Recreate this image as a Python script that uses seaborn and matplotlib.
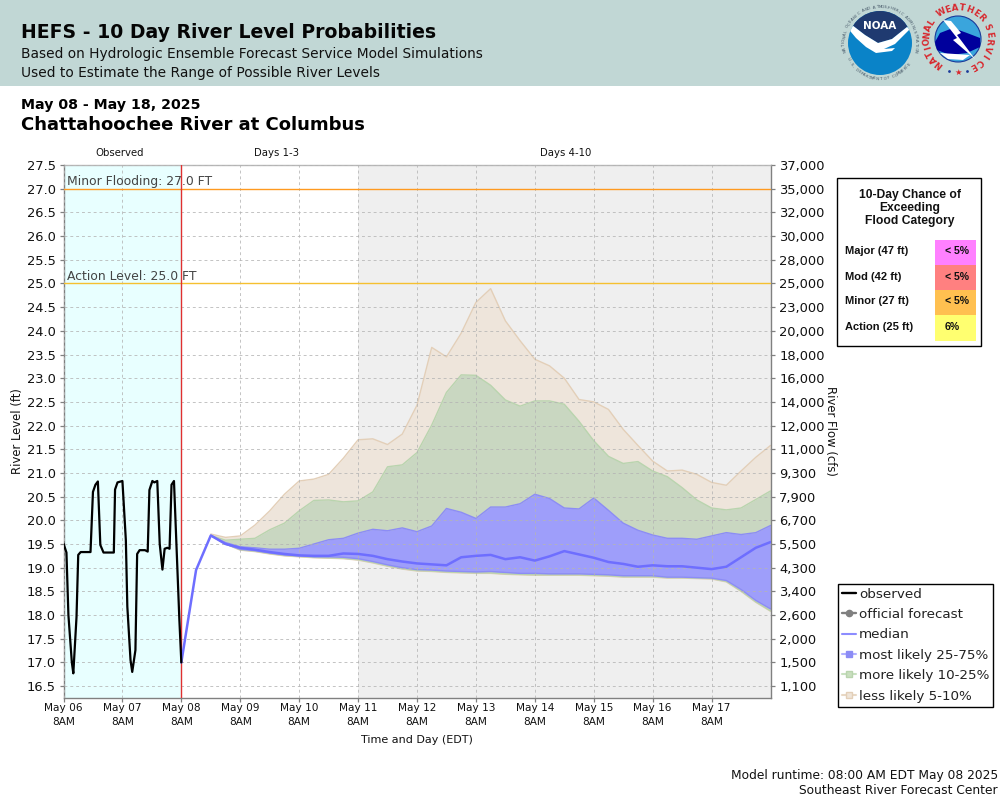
import numpy as np
import pandas as pd
import seaborn as sns
import matplotlib.pyplot as plt
from matplotlib.patches import Circle, Polygon, Rectangle
from matplotlib.lines import Line2D

# Hours since May 06 8AM
obs_hours = [0, 1.2, 2, 3.4, 4, 5.3, 6, 7, 11, 12, 13, 14, 15, 16.3, 20.5, 21, 22, 24, 25.4, 26, 27.3, 28,
             29.3, 30, 31, 33.2, 34.3, 35, 36.2, 37, 38.2, 39.2, 40.3, 41.2, 42.3, 43.2, 44, 45, 47.2, 48]
obs_level = [19.51, 19.32, 18.0, 17.0, 16.77, 17.96, 19.27, 19.33, 19.33, 20.6, 20.75, 20.82, 19.48, 19.32, 19.32,
             20.65, 20.8, 20.83, 19.58, 18.18, 17.05, 16.8, 17.26, 19.29, 19.37, 19.37, 19.34, 20.64, 20.83, 20.8,
             20.83, 19.5, 18.96, 19.4, 19.42, 19.4, 20.75, 20.83, 17.9, 17.0]

fcst_hours = list(range(48, 289, 6))
median = [17.0, 18.95, 19.68, 19.5, 19.42, 19.38, 19.33, 19.29, 19.26, 19.25, 19.25, 19.3, 19.29, 19.25, 19.18,
          19.13, 19.09, 19.07, 19.05, 19.22, 19.25, 19.27, 19.18, 19.22, 19.15, 19.24, 19.35, 19.28, 19.21, 19.12,
          19.08, 19.02, 19.05, 19.03, 19.03, 19.0, 18.97, 19.02, 19.22, 19.42, 19.54]

# Band edges start at May 08 8PM
band_hours = fcst_hours[2:]
p95 = [19.71, 19.64, 19.67, 19.9, 20.2, 20.55, 20.83, 20.87, 20.97, 21.31, 21.7, 21.72, 21.6, 21.82, 22.43, 23.65,
       23.45, 23.95, 24.6, 24.89, 24.21, 23.79, 23.4, 23.26, 23.0, 22.55, 22.5, 22.34, 21.92, 21.58, 21.25, 21.04,
       21.06, 20.97, 20.8, 20.74, 21.04, 21.33, 21.58]
p90 = [19.68, 19.58, 19.6, 19.62, 19.8, 19.94, 20.2, 20.42, 20.43, 20.39, 20.41, 20.6, 21.13, 21.17, 21.43, 22.01,
       22.7, 23.07, 23.06, 22.85, 22.54, 22.41, 22.52, 22.52, 22.45, 22.09, 21.68, 21.35, 21.2, 21.24, 21.04, 20.92,
       20.69, 20.43, 20.26, 20.22, 20.26, 20.44, 20.62]
p75 = [19.68, 19.53, 19.44, 19.42, 19.39, 19.39, 19.41, 19.5, 19.59, 19.62, 19.73, 19.81, 19.78, 19.84, 19.76, 19.88,
       20.25, 20.17, 20.04, 20.28, 20.28, 20.35, 20.55, 20.46, 20.26, 20.24, 20.47, 20.21, 19.94, 19.79, 19.69, 19.62,
       19.62, 19.6, 19.67, 19.74, 19.7, 19.74, 19.89]
p25 = [19.68, 19.5, 19.39, 19.36, 19.31, 19.27, 19.25, 19.23, 19.23, 19.22, 19.19, 19.13, 19.06, 19.0, 18.96, 18.95,
       18.93, 18.92, 18.91, 18.92, 18.9, 18.88, 18.88, 18.87, 18.87, 18.87, 18.86, 18.85, 18.83, 18.83, 18.83, 18.8,
       18.8, 18.79, 18.78, 18.73, 18.54, 18.31, 18.13]
p10 = [19.68, 19.5, 19.38, 19.35, 19.3, 19.26, 19.24, 19.22, 19.21, 19.2, 19.17, 19.11, 19.04, 18.98, 18.94, 18.93,
       18.91, 18.9, 18.89, 18.89, 18.87, 18.86, 18.85, 18.85, 18.85, 18.85, 18.84, 18.83, 18.81, 18.81, 18.81, 18.79,
       18.79, 18.78, 18.77, 18.71, 18.51, 18.28, 18.09]
p5 = [19.68, 19.5, 19.37, 19.34, 19.29, 19.25, 19.23, 19.21, 19.2, 19.19, 19.16, 19.1, 19.03, 18.97, 18.93, 18.92,
      18.9, 18.89, 18.88, 18.88, 18.86, 18.85, 18.84, 18.84, 18.84, 18.84, 18.83, 18.82, 18.8, 18.8, 18.8, 18.78,
      18.78, 18.77, 18.76, 18.7, 18.5, 18.27, 18.08]

level_ticks = [16.5 + 0.5 * i for i in range(23)]
flow_labels = ['1,100', '1,500', '2,000', '2,600', '3,400', '4,300', '5,500', '6,700', '7,900', '9,300', '11,000',
               '12,000', '14,000', '16,000', '18,000', '20,000', '23,000', '25,000', '28,000', '30,000', '32,000',
               '35,000', '37,000']
day_labels = ['May 06', 'May 07', 'May 08', 'May 09', 'May 10', 'May 11', 'May 12', 'May 13', 'May 14', 'May 15',
              'May 16', 'May 17']

flood_names = ['Major (47 ft)', 'Mod (42 ft)', 'Minor (27 ft)', 'Action (25 ft)']
flood_chance = ['< 5%', '< 5%', '< 5%', '6%']
flood_colors = ['#ff80ff', '#ff8080', '#ffc050', '#ffff70']

sns.set_theme(style='white')
plt.rcParams['font.family'] = ['DejaVu Sans']

fig = plt.figure(figsize=(10, 8), dpi=100, facecolor='white')


def px_axes(left, top, right, bottom):
    return [left / 1000, 1 - bottom / 800, (right - left) / 1000, (bottom - top) / 800]


# Page overlay in pixel coordinates for header, logos and boxes
page = fig.add_axes([0, 0, 1, 1], zorder=0)
page.set_xlim(0, 1000)
page.set_ylim(800, 0)
page.axis('off')

page.add_patch(Rectangle((0, 0), 1000, 86, fc='#c1d7d5', ec='none'))
page.text(21, 33, 'HEFS - 10 Day River Level Probabilities', fontsize=13.6, fontweight='bold', va='center', color='#050505')
page.text(21, 54, 'Based on Hydrologic Ensemble Forecast Service Model Simulations', fontsize=9.9, va='center', color='#111111')
page.text(21, 73, 'Used to Estimate the Range of Possible River Levels', fontsize=9.9, va='center', color='#111111')
page.text(21, 105, 'May 08 - May 18, 2025', fontsize=10.15, fontweight='bold', va='center', color='black')
page.text(21, 125, 'Chattahoochee River at Columbus', fontsize=12.95, fontweight='bold', va='center', color='black')
page.text(998, 775, 'Model runtime: 08:00 AM EDT May 08 2025', fontsize=8.8, ha='right', va='center', color='#111111')
page.text(998, 791, 'Southeast River Forecast Center', fontsize=8.8, ha='right', va='center', color='#111111')


def arc_text(s, cx, cy, r, start, step, size, color, bottom=False, weight='normal'):
    # Angles in degrees, clockwise from the top of the circle
    for i, ch in enumerate(s):
        a = start + step * i
        t = np.radians(a)
        x, y = cx + r * np.sin(t), cy - r * np.cos(t)
        rot = -a + 180 if bottom else -a
        page.text(x, y, ch, fontsize=size, color=color, rotation=rot, ha='center', va='center',
                  rotation_mode='anchor', fontweight=weight)


# NOAA logo
noaa_disc = Circle((880, 43), 32, fc='#0a83c8', ec='none')
page.add_patch(noaa_disc)
navy = Polygon([(840, 0), (920, 0), (920, 20), (907, 27), (892, 39), (878, 43), (865, 35), (852, 25), (840, 20)],
               fc='#1f3a70', ec='none')
page.add_patch(navy)
navy.set_clip_path(noaa_disc)
bird = Polygon([(846, 26), (852, 25), (865, 35), (878, 43), (892, 39), (907, 27), (910, 29), (895, 44), (884, 49),
                (895, 48), (892, 51), (876, 53), (866, 47), (856, 38)], fc='white', ec='none')
page.add_patch(bird)
bird.set_clip_path(noaa_disc)
page.text(880, 26, 'NOAA', fontsize=7.5, fontweight='bold', color='white', ha='center', va='center')
arc_text('NATIONAL OCEANIC AND ATMOSPHERIC ADMINISTRATION', 880, 43, 36, -103, 4.48, 2.9, '#445566')
arc_text('U.S. DEPARTMENT OF COMMERCE', 880, 43, 36, 243, -4.5, 2.9, '#445566', bottom=True)

# NWS logo
nws_disc = Circle((958, 39), 23, fc='#3aa5dc', ec='#1a3a9a', lw=0.8)
page.add_patch(nws_disc)
cloud = Polygon([(935, 42), (940, 33), (953, 28), (967, 33), (980, 38), (980, 47), (967, 53), (950, 55), (937, 50)],
                fc='#00009c', ec='none')
page.add_patch(cloud)
band = Polygon([(940, 53), (970, 55), (963, 60), (948, 59)], fc='white', ec='none')
page.add_patch(band)
bolt = Polygon([(943, 20), (951, 21), (961, 33), (957, 35), (975, 59), (953, 40), (957, 38)], fc='white', ec='none')
page.add_patch(bolt)
arc_text('NATIONAL', 958, 39, 31, -142, 12, 6.2, '#d8262c', weight='bold')
arc_text('WEATHER', 958, 39, 31, -32, 13.3, 6.2, '#d8262c', weight='bold')
arc_text('SERVICE', 958, 39, 31, 68, 13.7, 6.2, '#d8262c', weight='bold')
page.text(958, 72, '\u2605', fontsize=6, color='#d8262c', ha='center', va='center')
page.scatter([949, 967], [71, 71], s=4, color='#1a3a9a', linewidths=0)

# Main chart
ax = fig.add_axes(px_axes(63.5, 165, 770.5, 697.5), zorder=2)
ax.set_xlim(0, 288)
ax.set_ylim(16.26, 27.5)

ax.axvspan(0, 48, color='#e8ffff', lw=0, zorder=0)
ax.axvspan(120, 288, color='#efefef', lw=0, zorder=0)

ax.fill_between(band_hours, p5, p95, color='#eee5db', lw=0, zorder=1)
ax.fill_between(band_hours, p10, p90, color='#c9d7c1', lw=0, zorder=1.1)
ax.fill_between(band_hours, p25, p75, color='#9e9efa', lw=0, zorder=1.2)

# Band outlines
edge_sets = [(p95, '#e3cfb8'), (p5, '#e3cfb8'), (p90, '#b9d4ae'), (p10, '#b9d4ae'), (p75, '#8c8cf5'), (p25, '#8c8cf5')]
for edge, col in edge_sets:
    sns.lineplot(x=band_hours, y=edge, color=col, lw=1.0, ax=ax, zorder=1.5, errorbar=None)

ax.set_xticks(range(0, 288, 24))
ax.set_xticklabels([f'{d}\n8AM' for d in day_labels], fontsize=7.6, color='#111111', linespacing=1.45)
ax.set_yticks(level_ticks)
ax.set_yticklabels([f'{v:.1f}' for v in level_ticks], fontsize=9.4, color='#111111')
ax.grid(True, ls=(0, (3, 3)), lw=0.7, color='#b4b4b4', alpha=0.8)
ax.set_axisbelow(False)
ax.tick_params(axis='x', length=3, width=0.9, color='#808080', pad=1.1, bottom=True)
ax.tick_params(axis='y', length=3, width=0.9, color='#808080', pad=2.6, left=True)

ax.axhline(27, color='#ff9a20', lw=1.0, zorder=3)
ax.axhline(25, color='#f5c030', lw=1.0, zorder=3)
ax.axvline(48, color='#e03030', lw=1.0, zorder=3)
ax.text(1.5, 27.15, 'Minor Flooding: 27.0 FT', fontsize=8.9, color='#444444', va='center', zorder=6)
ax.text(1.5, 25.14, 'Action Level: 25.0 FT', fontsize=8.9, color='#444444', va='center', zorder=6)

sns.lineplot(x=fcst_hours, y=median, color='#6e6eff', lw=1.8, ax=ax, zorder=4, errorbar=None)
sns.lineplot(x=obs_hours, y=obs_level, color='black', lw=1.6, ax=ax, zorder=5, errorbar=None, sort=False)

for s in ax.spines.values():
    s.set_color('#808080')
    s.set_linewidth(1.0)
ax.spines['top'].set_color('#b8b8b8')
ax.set_xlabel('')
ax.set_ylabel('')

ax2 = ax.twinx()
ax2.set_ylim(ax.get_ylim())
ax2.set_yticks(level_ticks)
ax2.set_yticklabels(flow_labels, fontsize=9.4, color='#111111')
ax2.tick_params(axis='y', length=3, width=0.9, color='#808080', pad=3.3, right=True)
ax2.grid(False)
for s in ax2.spines.values():
    s.set_visible(False)

page.text(120, 153.5, 'Observed', fontsize=7.3, ha='center', va='center', color='#111111')
page.text(276, 153.5, 'Days 1-3', fontsize=7.3, ha='center', va='center', color='#111111')
page.text(566, 153.5, 'Days 4-10', fontsize=7.3, ha='center', va='center', color='#111111')
page.text(18, 431, 'River Level (ft)', fontsize=8.4, rotation=90, ha='center', va='center', color='#111111')
page.text(831, 431, 'River Flow (cfs)', fontsize=8.4, rotation=270, ha='center', va='center', color='#111111')
page.text(417, 740, 'Time and Day (EDT)', fontsize=8.0, ha='center', va='center', color='#111111')

# Flood category box
page.add_patch(Rectangle((836.5, 177.5), 144, 168, fc='white', ec='black', lw=1))
arial = 'Liberation Sans'
for i, line in enumerate(['10-Day Chance of', 'Exceeding', 'Flood Category']):
    page.text(910, 195 + 13 * i, line, fontsize=8.7, fontweight='bold', family=arial, ha='center', va='center', color='#111111')
for i, (name, chance, col) in enumerate(zip(flood_names, flood_chance, flood_colors)):
    top = 240 + 25 * i
    page.add_patch(Rectangle((935, top), 41, 26 if i == 3 else 25, fc=col, ec='none'))
    page.text(845, top + 11.5, name, fontsize=8.0, fontweight='bold', family=arial, va='center', color='#111111')
    page.text(945, top + 11.5, chance, fontsize=7.6, fontweight='bold', family=arial, va='center', color='#111111')

# Legend
handles = [
    Line2D([], [], color='black', lw=1.7),
    Line2D([], [], color='#808080', lw=1.7, marker='o', ms=4.5),
    Line2D([], [], color='#8c8cff', lw=1.5),
    Line2D([], [], color='#b0b0ff', lw=1.5, marker='s', ms=5, mfc='#8c8cf5', mec='#8c8cf5'),
    Line2D([], [], color='#c8e0c0', lw=1.5, marker='s', ms=5, mfc='#c9dfbf', mec='#b9d4ae'),
    Line2D([], [], color='#e8d8c4', lw=1.5, marker='s', ms=5, mfc='#efe5d9', mec='#e3cfb8'),
]
labels = ['observed', 'official forecast', 'median', 'most likely 25-75%', 'more likely 10-25%', 'less likely 5-10%']
leg = fig.legend(handles, labels, loc='upper left', bbox_to_anchor=(0.838, 1 - 583.5 / 800), borderaxespad=0,
                 frameon=True, fancybox=False, edgecolor='black', framealpha=1, fontsize=9.7, handlelength=1.05,
                 handletextpad=0.2, labelspacing=0.55, borderpad=0.3, labelcolor='#222222')
leg.get_frame().set_linewidth(1)

plt.savefig('out.png', dpi=100)
plt.close()
